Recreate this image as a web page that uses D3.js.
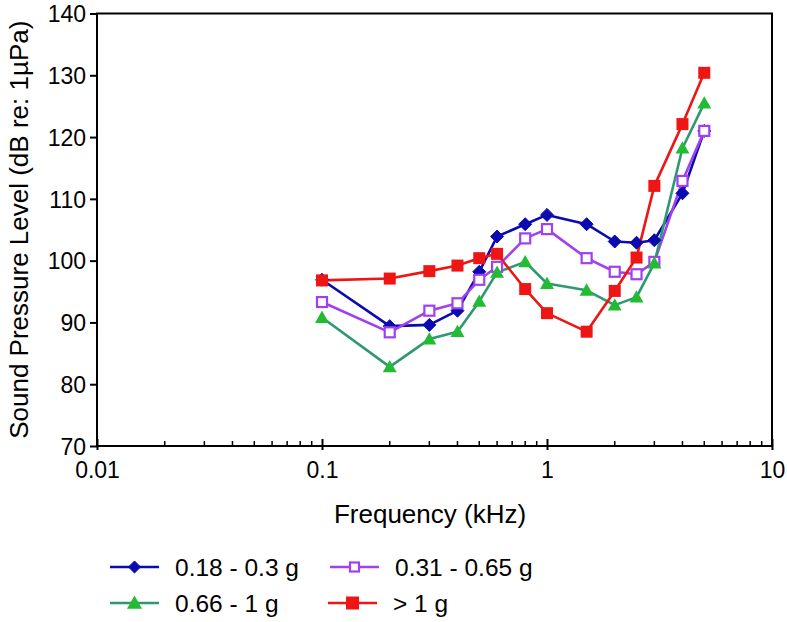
<!DOCTYPE html>
<html><head><meta charset="utf-8">
<script src="https://cdn.jsdelivr.net/npm/d3@7"></script>
<style>body{margin:0;background:#fff}text{font-family:"Liberation Sans",Arial,sans-serif}</style>
</head><body>
<svg id="c" width="787" height="622"></svg>
<script>
const frequencies = [0.1, 0.2, 0.3, 0.4, 0.5, 0.6, 0.8, 1, 1.5, 2, 2.5, 3, 4, 5];
const s018 = [96.9, 89.4, 89.6, 91.9, 98.2, 103.9, 105.9, 107.4, 105.9, 103.1, 102.9, 103.3, 110.9, 121.0];
const s031 = [93.3, 88.4, 91.9, 93.1, 96.9, 99.0, 103.6, 105.1, 100.4, 98.2, 97.8, 99.8, 112.9, 121.0];
const s066 = [90.8, 82.8, 87.3, 88.5, 93.4, 98.1, 99.8, 96.3, 95.2, 92.8, 94.1, 99.6, 118.2, 125.5];
const s1 = [96.8, 97.1, 98.3, 99.2, 100.4, 101.1, 95.4, 91.5, 88.5, 95.1, 100.5, 112.1, 122.1, 130.4];
const seriesNames = ["0.18 - 0.3 g", "0.31 - 0.65 g", "0.66 - 1 g", "> 1 g"];
const yTicks = [70, 80, 90, 100, 110, 120, 130, 140];
const xTicks = [0.01, 0.1, 1, 10];
const xTickLabels = ["0.01", "0.1", "1", "10"];

const series = [
  {name: seriesNames[0], values: s018, line: "#0a0ab0", fill: "#0a0ab0", marker: "diamond"},
  {name: seriesNames[1], values: s031, line: "#a040f0", fill: "#fff", marker: "opensquare"},
  {name: seriesNames[2], values: s066, line: "#2e9970", fill: "#22bb33", marker: "triangle"},
  {name: seriesNames[3], values: s1, line: "#ee1515", fill: "#ee1515", marker: "square"}
];

const svg = d3.select("#c");
const L = 97, R = 772, T = 13.5, B = 446;
const x = d3.scaleLog().domain([0.01, 10]).range([L, R]);
const y = d3.scaleLinear().domain([70, 140]).range([B, T]);

// frame
svg.append("rect").attr("x", L).attr("y", T).attr("width", R - L).attr("height", B - T)
  .attr("fill", "none").attr("stroke", "#000").attr("stroke-width", 2);

// y axis
const ya = svg.append("g").attr("transform", `translate(${L},0)`)
  .call(d3.axisLeft(y).tickValues(yTicks).tickSize(7).tickPadding(4));
ya.select(".domain").remove();
ya.selectAll("line").attr("stroke-width", 2).attr("x2", -7).attr("x1", 0);
ya.selectAll("text").attr("font-size", 23).attr("fill", "#000").attr("dy", "0.36em");

// x axis: major ticks crossing, minor inside
const minor = [];
for (let d = 0.01; d < 10; d *= 10) for (let k = 2; k <= 9; k++) minor.push(+(d * k).toPrecision(3));
svg.append("g").selectAll("line").data(minor).join("line")
  .attr("x1", d => x(d)).attr("x2", d => x(d)).attr("y1", B).attr("y2", B - 5)
  .attr("stroke", "#000").attr("stroke-width", 1.5);
const xa = svg.append("g").attr("transform", `translate(0,${B})`)
  .call(d3.axisBottom(x).tickValues(xTicks).tickFormat((d, i) => xTickLabels[i]).tickSize(0).tickPadding(0));
xa.select(".domain").remove();
xa.selectAll(".tick").append("line").attr("y1", -7).attr("y2", 4).attr("stroke", "#000").attr("stroke-width", 2);
xa.selectAll("text").attr("font-size", 23).attr("fill", "#000").attr("dy", null).attr("y", 32);

// axis titles
svg.append("text").attr("x", 430).attr("y", 523).attr("text-anchor", "middle")
  .attr("font-size", 26).text("Frequency (kHz)");
svg.append("text").attr("transform", `translate(28,${(T + B) / 2}) rotate(-90)`).attr("text-anchor", "middle")
  .attr("font-size", 26).text("Sound Pressure Level (dB re: 1µPa)");

function drawMarker(g, type, s, fill, stroke) {
  if (type === "diamond") {
    g.append("path").attr("d", d3.symbol(d3.symbolDiamond2, s * s * 0.55)())
      .attr("fill", fill).attr("stroke", fill).attr("stroke-width", 1);
  } else if (type === "square") {
    g.append("rect").attr("x", -s / 2).attr("y", -s / 2).attr("width", s).attr("height", s).attr("fill", fill);
  } else if (type === "opensquare") {
    const q = s - 2;
    g.append("rect").attr("x", -q / 2).attr("y", -q / 2).attr("width", q).attr("height", q)
      .attr("fill", "#fff").attr("stroke", stroke).attr("stroke-width", 2.2);
  } else if (type === "triangle") {
    g.append("path").attr("d", `M0,${-s * 0.58}L${s * 0.58},${s * 0.45}L${-s * 0.58},${s * 0.45}Z`).attr("fill", fill);
  }
}

const line = d3.line().x(d => x(d[0])).y(d => y(d[1]));
const plot = svg.append("g");
series.forEach(sr => {
  const pts = frequencies.map((f, i) => [f, sr.values[i]]);
  plot.append("path").datum(pts).attr("d", line).attr("fill", "none")
    .attr("stroke", sr.line).attr("stroke-width", 2.6).attr("stroke-linejoin", "round");
});
series.forEach(sr => {
  frequencies.forEach((f, i) => {
    const g = plot.append("g").attr("transform", `translate(${x(f)},${y(sr.values[i])})`);
    drawMarker(g, sr.marker, sr.marker === "diamond" ? 14 : 12, sr.fill, sr.line);
  });
});

// legend
const legPos = [[110, 567], [330, 567], [110, 603], [328, 603]];
series.forEach((sr, i) => {
  const [lx, ly] = legPos[i];
  const g = svg.append("g").attr("transform", `translate(${lx},${ly})`);
  g.append("line").attr("x1", 0).attr("x2", 49).attr("stroke", sr.line).attr("stroke-width", 2.6);
  const m = g.append("g").attr("transform", "translate(24.5,0)");
  drawMarker(m, sr.marker, sr.marker === "diamond" ? 13 : (sr.marker === "opensquare" ? 11 : 13), sr.fill, sr.line);
  g.append("text").attr("x", 65).attr("y", 0).attr("dy", "0.36em").attr("font-size", 24.5).text(sr.name);
});
</script>
</body></html>
